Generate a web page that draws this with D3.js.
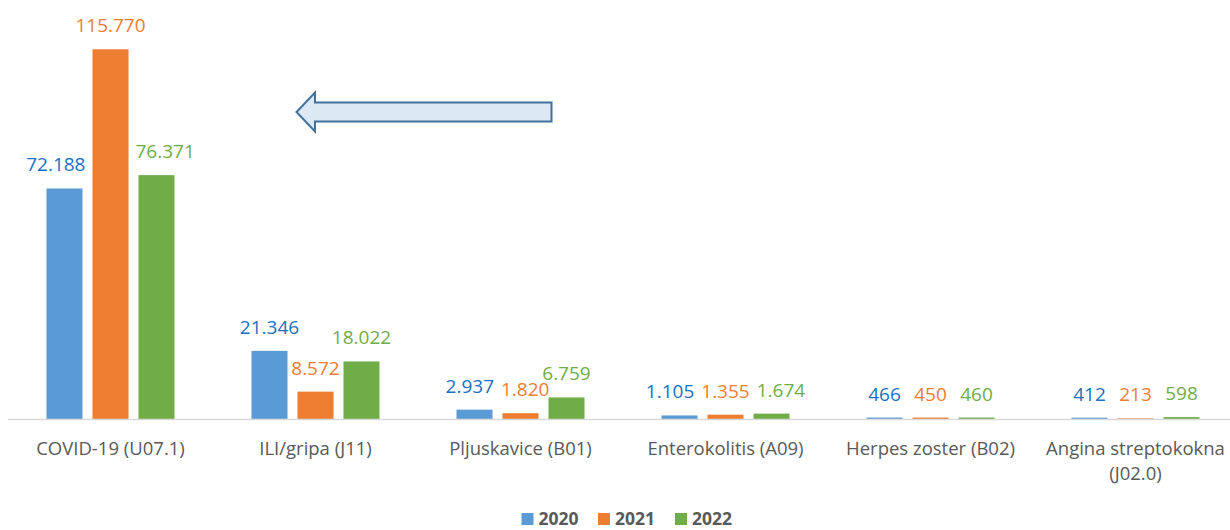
<!DOCTYPE html>
<html>
<head>
<meta charset="utf-8">
<script src="https://cdn.jsdelivr.net/npm/d3@7"></script>
<style>
  html, body { margin: 0; padding: 0; background: #ffffff; }
  svg { display: block; }
  text { font-family: "Open Sans", "Liberation Sans", sans-serif; }
</style>
</head>
<body>
<svg id="chart" width="1230" height="530"></svg>
<script>
// Diagnoses (first line / second line of the axis label)
const categories = [
  ["COVID-19 (U07.1)"],
  ["ILI/gripa (J11)"],
  ["Pljuskavice (B01)"],
  ["Enterokolitis (A09)"],
  ["Herpes zoster (B02)"],
  ["Angina streptokokna", "(J02.0)"]
];
const years = ["2020", "2021", "2022"];
const values2020 = [72188, 21346, 2937, 1105, 466, 412];
const values2021 = [115770, 8572, 1820, 1355, 450, 213];
const values2022 = [76371, 18022, 6759, 1674, 460, 598];

const barColors = ["#5b9bd5", "#ed7d31", "#70ad47"];
const labelColors = ["#1a70c2", "#ed7d31", "#70ad47"];

const series = [values2020, values2021, values2022];
const fmt = v => d3.format(",")(v).replace(/,/g, ".");

const svg = d3.select("#chart");
const W = 1230, H = 530;
const baseY = 419;

const x0 = d3.scaleBand()
  .domain(d3.range(categories.length))
  .range([8, 1238]);

const x1 = d3.scaleBand()
  .domain(years)
  .range([38.5, 166.5])
  .paddingInner(0.217);

const y = d3.scaleLinear()
  .domain([0, 120000])
  .range([baseY, 35.8]);

// Bars
const groups = svg.append("g")
  .selectAll("g")
  .data(categories.map((c, i) => i))
  .join("g")
  .attr("transform", i => `translate(${x0(i)},0)`);

groups.selectAll("rect")
  .data(i => years.map((yr, s) => ({ i, s, yr, v: series[s][i] })))
  .join("rect")
  .attr("x", d => x1(d.yr))
  .attr("width", x1.bandwidth())
  .attr("y", d => y(d.v))
  .attr("height", d => baseY - y(d.v))
  .attr("fill", d => barColors[d.s]);

// Category axis line
svg.append("line")
  .attr("x1", 8).attr("x2", W)
  .attr("y1", baseY + 0.5).attr("y2", baseY + 0.5)
  .attr("stroke", "#d9d9d9")
  .attr("stroke-width", 1.5);

// Category labels
const catLabels = svg.append("g");
categories.forEach((lines, i) => {
  const t = catLabels.append("text")
    .attr("x", x0(i) + x0.bandwidth() / 2)
    .attr("y", 455)
    .attr("text-anchor", "middle")
    .attr("fill", "#595959")
    .style("font-size", "18.5px");
  lines.forEach((ln, k) => {
    t.append("tspan")
      .attr("x", x0(i) + x0.bandwidth() / 2)
      .attr("dy", k === 0 ? 0 : 25)
      .text(ln);
  });
});

// Value labels above each bar; nudged off taller neighbouring bars,
// then spread apart when neighbouring labels collide
const labelLayer = svg.append("g");
const clear = 7;
categories.forEach((c, i) => {
  const bars = years.map((yr, s) => ({
    left: x0(i) + x1(yr),
    right: x0(i) + x1(yr) + x1.bandwidth(),
    top: y(series[s][i])
  }));
  const items = years.map((yr, s) => {
    const v = series[s][i];
    const cx = (bars[s].left + bars[s].right) / 2;
    const t = labelLayer.append("text")
      .attr("x", cx)
      .attr("y", y(v) - 17)
      .attr("text-anchor", "middle")
      .attr("fill", labelColors[s])
      .style("font-size", "19px")
      .text(fmt(v));
    const w = t.node().getComputedTextLength();
    return { t, cx, w, top: y(v) - 31, bottom: y(v) - 17 };
  });
  items.forEach((it, s) => {
    const hitL = s > 0 && bars[s - 1].top < it.bottom &&
      bars[s - 1].right + clear > it.cx - it.w / 2;
    const hitR = s < bars.length - 1 && bars[s + 1].top < it.bottom &&
      bars[s + 1].left - clear < it.cx + it.w / 2;
    if (hitL && !hitR) it.cx = bars[s - 1].right + clear + it.w / 2;
    if (hitR && !hitL) it.cx = bars[s + 1].left - clear - it.w / 2;
  });
  for (let pass = 0; pass < 10; pass++) {
    for (let k = 0; k < items.length - 1; k++) {
      const a = items[k], b = items[k + 1];
      const vOverlap = a.top < b.bottom && b.top < a.bottom;
      if (!vOverlap) continue;
      const gap = (b.cx - b.w / 2) - (a.cx + a.w / 2);
      const need = 7 - gap;
      if (need > 0) { a.cx -= need / 2; b.cx += need / 2; }
    }
  }
  items.forEach(it => it.t.attr("x", it.cx));
});

// Annotation arrow pointing left
const arrow = d3.path();
arrow.moveTo(551.5, 102.5);
arrow.lineTo(315, 102.5);
arrow.lineTo(315, 92.5);
arrow.lineTo(296.5, 112);
arrow.lineTo(315, 131.5);
arrow.lineTo(315, 121.5);
arrow.lineTo(551.5, 121.5);
arrow.closePath();
svg.append("path")
  .attr("d", arrow.toString())
  .attr("fill", "#dde8f5")
  .attr("stroke", "#41719c")
  .attr("stroke-width", 2)
  .attr("stroke-linejoin", "miter");

// Legend
const legend = svg.append("g");
const legendX = [521.5, 598, 675];
years.forEach((yr, s) => {
  legend.append("rect")
    .attr("x", legendX[s]).attr("y", 513)
    .attr("width", 12).attr("height", 12)
    .attr("fill", barColors[s]);
  legend.append("text")
    .attr("x", legendX[s] + 17)
    .attr("y", 525)
    .attr("fill", "#595959")
    .style("font-size", "17.5px")
    .style("font-weight", "bold")
    .text(yr);
});
</script>
</body>
</html>
